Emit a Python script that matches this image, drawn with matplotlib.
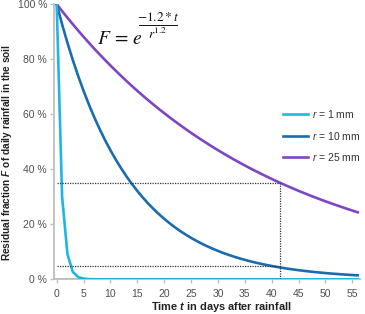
import matplotlib
matplotlib.use("Agg")
import matplotlib.pyplot as plt

# ---- data (percent values) ----
days = list(range(0, 57))

r1_days = [0, 1, 2, 3, 4, 5, 6, 7, 8, 56]
r1_vals = [100, 30.1, 9.1, 2.7, 0.8, 0.25, 0.07, 0.02, 0.0, 0.0]

r10_vals = [100, 92.71, 85.95, 79.68, 73.87, 68.48, 63.49, 58.86, 54.56, 50.58,
            46.90, 43.48, 40.30, 37.36, 34.64, 32.11, 29.77, 27.60, 25.59, 23.72,
            21.99, 20.39, 18.90, 17.52, 16.25, 15.06, 13.96, 12.95, 12.00, 11.13,
            10.31, 9.56, 8.87, 8.22, 7.62, 7.06, 6.55, 6.07, 5.63, 5.22,
            4.84, 4.48, 4.16, 3.85, 3.57, 3.31, 3.07, 2.85, 2.64, 2.45,
            2.27, 2.10, 1.95, 1.81, 1.67, 1.55, 1.44]

r25_vals = [100, 97.51, 95.08, 92.72, 90.41, 88.16, 85.96, 83.82, 81.74, 79.70,
            77.72, 75.78, 73.90, 72.06, 70.26, 68.51, 66.81, 65.14, 63.52, 61.94,
            60.40, 58.89, 57.43, 56.00, 54.60, 53.24, 51.92, 50.63, 49.37, 48.14,
            46.94, 45.77, 44.63, 43.52, 42.44, 41.38, 40.35, 39.35, 38.37, 37.41,
            36.48, 35.57, 34.69, 33.82, 32.98, 32.16, 31.36, 30.58, 29.82, 29.08,
            28.35, 27.65, 26.96, 26.29, 25.63, 24.99, 24.37]

series_labels = ["1", "10", "25"]
series_colors = ["#1FB5E6", "#1A6CB0", "#7E45C4"]

marker_t = 41.6
marker_hi = 35.0
marker_lo = 5.0

x_ticks = list(range(0, 56, 5))
y_ticks = [0, 20, 40, 60, 80, 100]

# ---- figure ----
plt.rcParams['font.family'] = ['Liberation Sans', 'DejaVu Sans']
plt.rcParams['mathtext.fontset'] = 'custom'
plt.rcParams['mathtext.rm'] = 'Liberation Sans'
plt.rcParams['mathtext.it'] = 'Liberation Sans:italic'
plt.rcParams['mathtext.bf'] = 'Liberation Sans:bold'
plt.rcParams['mathtext.bfit'] = 'Liberation Sans:italic:bold'

W, H = 365, 314
fig = plt.figure(figsize=(3.65, 3.14), dpi=100)
ax = fig.add_axes([0.148, 0.1105, 0.838, 0.876])

lw = 1.9
ax.plot(days, r25_vals, color=series_colors[2], lw=lw, zorder=3)
ax.plot(days, r10_vals, color=series_colors[1], lw=lw, zorder=3)
ax.plot(r1_days, r1_vals, color=series_colors[0], lw=lw, zorder=3)

dot = dict(color="#333333", lw=0.9, ls=(0, (1, 1)), zorder=4)
ax.plot([0, marker_t], [marker_hi, marker_hi], **dot)
ax.plot([0, marker_t], [marker_lo, marker_lo], **dot)
ax.plot([0, marker_t], [0, 0], **dot)
ax.plot([marker_t, marker_t], [0, marker_hi], **dot)

ax.set_xlim(-0.5, 56.4)
ax.set_ylim(0, 100)
ax.set_xticks(x_ticks)
ax.set_yticks(y_ticks)
ax.set_yticklabels([f"{v} %" for v in y_ticks])

for s in ["top", "right"]:
    ax.spines[s].set_visible(False)
for s in ["left", "bottom"]:
    ax.spines[s].set_color("#BFBFBF")
    ax.spines[s].set_linewidth(1.3)
ax.tick_params(axis="both", colors="#BFBFBF", labelcolor="#505050",
               labelsize=7.5, length=3, width=1)
ax.tick_params(axis="x", pad=4)
ax.tick_params(axis="y", pad=2)

ax.set_ylabel(r"Residual fraction $\mathbfit{F}$ of daily rainfall in the soil",
              fontsize=7.3, fontweight="bold", color="#222222")
ax.set_xlabel(r"Time $\mathbfit{t}$ in days after rainfall",
              fontsize=7.9, fontweight="bold", color="#222222")
ax.yaxis.set_label_coords(-0.13, 0.46)
ax.xaxis.set_label_coords(0.546, -0.075)
ax.xaxis.label.set_va("top")

# legend
leg_y = [114, 136, 157.3]
for lab, col, yp in zip(series_labels, series_colors, leg_y):
    yf = 1 - yp / H
    fig.add_artist(plt.Line2D([282.7 / W, 308 / W], [yf, yf], color=col, lw=lw,
                              transform=fig.transFigure))
    fig.text(312 / W, yf, f"$\\mathit{{r}}$ = {lab} mm", fontsize=7.5, color="#333333",
             va="center", ha="left")

# formula  F = e^{(-1.2*t)/r^1.2}
fcol = "#111111"
fig.text(97 / W, 1 - 43.5 / H, r"$F\,=\,e$", fontsize=14, ha="left", va="baseline",
         color=fcol, math_fontfamily="stix")
fig.text(158 / W, 1 - 24 / H, r"$-1.2 * t$", fontsize=9.5, ha="center", va="bottom",
         color=fcol, math_fontfamily="stix")
fig.add_artist(plt.Line2D([139 / W, 177 / W], [1 - 25 / H, 1 - 25 / H], color=fcol,
                          lw=0.7, transform=fig.transFigure))
fig.text(158 / W, 1 - 26.5 / H, r"$r^{1.2}$", fontsize=9.5, ha="center", va="top",
         color=fcol, math_fontfamily="stix")

fig.savefig("out.png", dpi=100)
